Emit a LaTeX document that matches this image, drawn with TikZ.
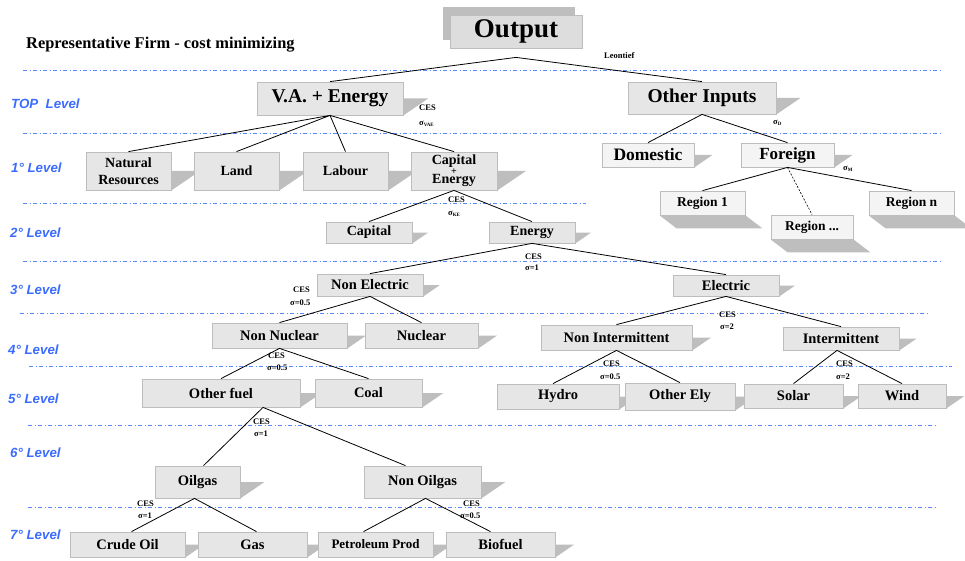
\documentclass[tikz,border=0pt]{standalone}
\usepackage{fontspec}
\setmainfont{Liberation Serif}
\newfontfamily\lsans{Liberation Sans}
\usetikzlibrary{calc}
\pgfdeclarelayer{background}
\pgfsetlayers{background,main}
\definecolor{boxfill}{HTML}{E6E6E6}
\definecolor{boxlite}{HTML}{F4F4F4}
\definecolor{outfill}{HTML}{DDDDDD}
\definecolor{boxline}{HTML}{BDBDBD}
\definecolor{shadowc}{HTML}{BEBEBE}
\definecolor{lvlblue}{HTML}{3B6CFF}
\definecolor{dashblue}{HTML}{5A88FF}
\newcommand\fsz[1]{\fontsize{#1}{#1}\selectfont}
\newcommand\tightlines{\lineskiplimit=-30pt\relax}
\tikzset{
  box/.style={draw=boxline, fill=boxfill, line width=0.8pt, inner sep=0pt, align=center},
  lite/.style={fill=boxlite},
  conn/.style={draw=black, line width=0.8pt},
  lvl/.style={anchor=west, inner sep=0pt, text=lvlblue, font=\lsans\bfseries\itshape\fsz{13.3}},
  lbl/.style={anchor=west, inner sep=0pt, font=\bfseries\fsz{8.5}},
  lvline/.style={draw=dashblue, line width=0.9pt, dash pattern=on 4pt off 2.5pt on 1pt off 2.5pt},
}
% box with wedge shadow to the right
\newcommand\bx[8][]{%
  \node[box,font=\bfseries\fsz{#7},minimum width={(#5)-(#3)},minimum height={(#6)-(#4)},#1] (#2) at ({((#3)+(#5))/2},{((#4)+(#6))/2}) {#8};
  \begin{pgfonlayer}{background}
    \fill[shadowc] (#2.south west) -- (#2.south east) -- ([xshift={0.75*((#6)-(#4))}]#2.east) -- ([xshift={0.75*((#6)-(#4))}]#2.west) -- cycle;
  \end{pgfonlayer}}
% box with shadow below
\newcommand\bxd[8][]{%
  \node[box,font=\bfseries\fsz{#7},minimum width={(#5)-(#3)},minimum height={(#6)-(#4)},#1] (#2) at ({((#3)+(#5))/2},{((#4)+(#6))/2}) {#8};
  \begin{pgfonlayer}{background}
    \fill[shadowc] (#2.south west) -- ++(17,13) -- ([shift={(17,13)}]#2.south east) -- (#2.south east) -- cycle;
  \end{pgfonlayer}}
\begin{document}
\begin{tikzpicture}[x=1pt,y=-1pt]
\useasboundingbox (0,0) rectangle (965,561);
\begin{pgfonlayer}{background}
  \fill[white] (0,0) rectangle (965,561);
  \draw[lvline] (23,70) -- (940,70);
  \draw[lvline] (23,133) -- (940,133);
  \draw[lvline] (23,203) -- (586,203);
  \draw[lvline] (23,261) -- (940,261);
  \draw[lvline] (20,313) -- (927,313);
  \draw[lvline] (29,366) -- (952,366);
  \draw[lvline] (28,425) -- (938,425);
  \draw[lvline] (28,507) -- (938,507);
\end{pgfonlayer}

% title and level labels
\node[anchor=west, inner sep=0pt, font=\bfseries\fsz{16.4}] (title) at (26,45) {Representative Firm - cost minimizing};
\node[lvl] (l0) at (11,104) {TOP\ \ Level};
\node[lvl] (l1) at (11,168) {1° Level};
\node[lvl] (l2) at (10,233) {2° Level};
\node[lvl] (l3) at (10,290) {3° Level};
\node[lvl] (l4) at (8,350) {4° Level};
\node[lvl] (l5) at (8,399) {5° Level};
\node[lvl] (l6) at (10,453) {6° Level};
\node[lvl] (l7) at (10,535) {7° Level};

% Output
\node[box, fill=outfill, font=\bfseries\fsz{27}, minimum width=132, minimum height=33] (out) at (516,31.5) {Output};
\begin{pgfonlayer}{background}
  \fill[shadowc] ([shift={(-7,-8)}]out.south west) rectangle ([shift={(-7,-8)}]out.north east);
\end{pgfonlayer}

% boxes
\bx{va}{257}{82}{403}{115}{19.5}{V.A. + Energy}
\bx{oth}{628}{82}{776}{114}{19.5}{Other Inputs}
\bx[lite]{dom}{602}{143}{694}{167}{17.5}{Domestic}
\bx[lite]{frg}{741}{143}{834}{167}{17}{Foreign}
\bxd[lite]{r1}{660}{191}{745}{215}{13.5}{Region 1}
\bxd[lite]{rd}{771}{215}{853}{239}{13.5}{Region ...}
\bxd[lite]{rn}{869}{191}{954}{215}{13.5}{Region n}
\bx[font=\bfseries\fontsize{14}{17}\selectfont]{nat}{86}{152}{171}{190}{14}{Natural\\Resources}
\bx{land}{194}{152}{279}{190}{14}{Land}
\bx{lab}{303}{152}{388}{190}{14}{Labour}
\bx[font=\bfseries\fontsize{14}{9.5}\selectfont\tightlines]{ce}{411}{152}{497}{190}{14}{Capital\\[0pt]\fontsize{10}{9.5}\selectfont +\\[0pt]Energy}
\bx{cap}{326}{222}{412}{243}{14}{Capital}
\bx{en}{489}{222}{575}{243}{14}{Energy}
\bx{ne}{317}{274}{423}{296}{14.5}{Non Electric}
\bx{el}{673}{275}{779}{296}{14.5}{Electric}
\bx{nn}{212}{323}{347}{348}{14.5}{Non Nuclear}
\bx{nuc}{365}{323}{478}{348}{14.5}{Nuclear}
\bx{ni}{541}{325}{692}{350}{14.5}{Non Intermittent}
\bx{int}{783}{327}{899}{350}{14.5}{Intermittent}
\bx{ofuel}{142}{379}{300}{407}{14.5}{Other fuel}
\bx{coal}{315}{379}{422}{407}{14.5}{Coal}
\bx{hyd}{497}{384}{619}{409}{14.5}{Hydro}
\bx{oely}{625}{383}{735}{410}{14.5}{Other Ely}
\bx{sol}{744}{384}{843}{408}{14.5}{Solar}
\bx{wind}{858}{384}{946}{408}{14.5}{Wind}
\bx{oil}{155}{466}{240}{498}{14.5}{Oilgas}
\bx{noil}{364}{466}{481}{498}{14.5}{Non Oilgas}
\bx{crude}{70}{532}{185}{557}{14.5}{Crude Oil}
\bx{gas}{198}{532}{307}{557}{14.5}{Gas}
\bx{pet}{318}{532}{433}{557}{13}{Petroleum Prod}
\bx{bio}{446}{532}{555}{557}{14.5}{Biofuel}

% connectors
\coordinate (outapex) at ([yshift=-9]out.south);
\draw[conn] (va.north) -- (outapex) -- (oth.north);
\draw[conn] (nat.north) -- (va.south) -- (land.north);
\draw[conn] (va.south) -- (lab.north);
\draw[conn] (va.south) -- (ce.north);
\draw[conn] (dom.north) -- (oth.south) -- (frg.north);
\draw[conn] (r1.north) -- (frg.south) -- (rn.north);
\draw[line width=0.6pt, dash pattern=on 2pt off 1.5pt] (frg.south) -- (rd.north);
\draw[conn] (cap.north) -- (ce.south) -- (en.north);
\draw[conn] (ne.north) -- (en.south) -- (el.north);
\draw[conn] (nn.north) -- (ne.south) -- (nuc.north);
\draw[conn] (ni.north) -- (el.south) -- (int.north);
\draw[conn] (ofuel.north) -- (nn.south) -- (coal.north);
\draw[conn] ([xshift=-5]hyd.north) -- (ni.south) -- (oely.north);
\draw[conn] (sol.north) -- ([xshift=-4]int.south) -- (wind.north);
\draw[conn] ([xshift=6]oil.north) -- ([xshift=42]ofuel.south) -- ([xshift=-17]noil.north);
\draw[conn] ([xshift=4]crude.north) -- ([xshift=-3]oil.south) -- ([xshift=4]gas.north);
\draw[conn] ([xshift=-12]pet.north) -- ([xshift=3]noil.south) -- ([xshift=-10]bio.north);

% elasticity labels
\node[lbl] (leon) at (604,56) {Leontief};
\node[lbl] (c1) at (419,108) {CES};
\node[lbl] (s1) at (419,124) {σ\raisebox{-1.5pt}{\fsz{5}VAE}};
\node[lbl] (sd) at (773,123) {σ\raisebox{-1.5pt}{\fsz{5}D}};
\node[lbl] (sm) at (843,169) {σ\raisebox{-1.5pt}{\fsz{5}M}};
\node[lbl] (c2) at (448,200) {CES};
\node[lbl] (s2) at (448,214) {σ\raisebox{-1.5pt}{\fsz{5}KE}};
\node[lbl] (c3) at (525,257) {CES};
\node[lbl] (s3) at (525,268) {σ=1};
\node[lbl] (c4) at (293,290) {CES};
\node[lbl] (s4) at (290,303) {σ=0.5};
\node[lbl] (c5) at (719,315) {CES};
\node[lbl] (s5) at (720,327) {σ=2};
\node[lbl] (c6) at (268,356) {CES};
\node[lbl] (s6) at (267,368) {σ=0.5};
\node[lbl] (c7) at (603,364) {CES};
\node[lbl] (s7) at (600,377) {σ=0.5};
\node[lbl] (c8) at (836,364) {CES};
\node[lbl] (s8) at (836,377) {σ=2};
\node[lbl] (c9) at (253,422) {CES};
\node[lbl] (s9) at (254,434) {σ=1};
\node[lbl] (c10) at (137,504) {CES};
\node[lbl] (s10) at (138,516) {σ=1};
\node[lbl] (c11) at (463,504) {CES};
\node[lbl] (s11) at (460,516) {σ=0.5};
\end{tikzpicture}
\end{document}
